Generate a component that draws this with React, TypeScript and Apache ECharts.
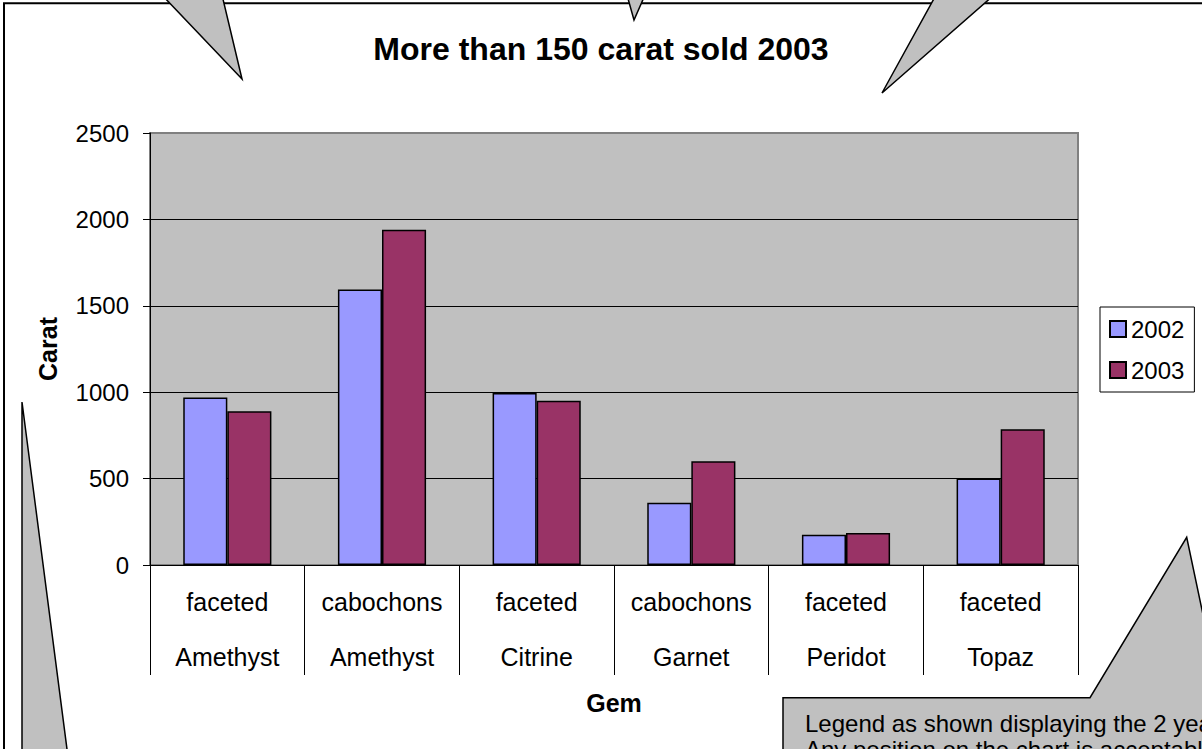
import React, { useEffect, useRef } from "react";
import * as echarts from "echarts";

const subTypes = ["faceted", "cabochons", "faceted", "cabochons", "faceted", "faceted"];
const gems = ["Amethyst", "Amethyst", "Citrine", "Garnet", "Peridot", "Topaz"];
const seriesNames = ["2002", "2003"];
const values2002 = [970, 1595, 995, 360, 175, 500];
const values2003 = [890, 1940, 950, 600, 185, 785];
const yTicks = { min: 0, max: 2500, interval: 500 };

const FONT = '"Liberation Sans", Arial, sans-serif';

export default function App() {
  const ref = useRef<HTMLDivElement>(null);

  useEffect(() => {
    if (!ref.current) return;
    const chart = echarts.init(ref.current, null, { renderer: "svg" });
    const categories = subTypes.map((s, i) => `${s}\n${gems[i]}`);

    const option: any = {
      animation: false,
      backgroundColor: "#ffffff",
      textStyle: { fontFamily: FONT, color: "#000" },
      title: {
        text: "More than 150 carat sold 2003",
        left: "center",
        top: 28,
        textStyle: { fontFamily: FONT, fontSize: 32, fontWeight: "bold", color: "#000" },
      },
      legend: {
        orient: "vertical",
        left: 1100,
        top: 307,
        padding: [10, 10, 10, 9],
        borderColor: "#000",
        borderWidth: 1,
        backgroundColor: "#fff",
        itemWidth: 16,
        itemHeight: 16,
        itemGap: 17,
        icon: "rect",
        textStyle: { fontFamily: FONT, fontSize: 24, color: "#000", lineHeight: 24 },
        data: seriesNames,
      },
      grid: {
        left: 150,
        right: 124,
        top: 133,
        bottom: 184,
        show: true,
        backgroundColor: "#C0C0C0",
        borderColor: "#808080",
        borderWidth: 2,
      },
      xAxis: {
        type: "category",
        data: categories,
        name: "Gem",
        nameLocation: "middle",
        nameGap: 125,
        nameTextStyle: { fontFamily: FONT, fontSize: 25, fontWeight: "bold", color: "#000" },
        axisLine: { show: true, lineStyle: { color: "#000", width: 1 } },
        axisTick: { show: true, interval: 0, length: 110, lineStyle: { color: "#000", width: 1 } },
        axisLabel: {
          interval: 0,
          fontFamily: FONT,
          fontSize: 25,
          lineHeight: 55,
          margin: 9,
          color: "#000",
        },
      },
      yAxis: {
        type: "value",
        min: yTicks.min,
        max: yTicks.max,
        interval: yTicks.interval,
        name: "Carat",
        nameLocation: "middle",
        nameGap: 90,
        nameTextStyle: { fontFamily: FONT, fontSize: 25, fontWeight: "bold", color: "#000" },
        axisLine: { show: true, lineStyle: { color: "#000", width: 1 } },
        axisTick: { show: true, length: 7, lineStyle: { color: "#000", width: 1 } },
        axisLabel: {
          fontFamily: FONT,
          fontSize: 24,
          margin: 21,
          color: "#000",
          formatter: (v: number) => String(v),
        },
        splitLine: { show: true, showMaxLine: false, lineStyle: { color: "#000", width: 1 } },
      },
      series: [
        {
          name: seriesNames[0],
          type: "bar",
          data: values2002,
          barGap: "0%",
          barCategoryGap: "43%",
          itemStyle: { color: "#9999FF", borderColor: "#000", borderWidth: 1.5 },
        },
        {
          name: seriesNames[1],
          type: "bar",
          data: values2003,
          barGap: "0%",
          barCategoryGap: "43%",
          itemStyle: { color: "#993366", borderColor: "#000", borderWidth: 1.5 },
        },
      ],
      graphic: {
        elements: [
          {
            type: "rect",
            z: 100,
            shape: { x: 4, y: 3.3, width: 1400, height: 900 },
            style: { fill: "none", stroke: "#000", lineWidth: 2 },
          },
          {
            type: "polygon",
            z: 101,
            shape: { points: [[162, -5], [242, 79], [222, -5]] },
            style: { fill: "#C0C0C0", stroke: "#000", lineWidth: 1.5 },
          },
          {
            type: "polygon",
            z: 101,
            shape: { points: [[627, -5], [634, 20], [645, -5]] },
            style: { fill: "#C0C0C0", stroke: "#000", lineWidth: 1.5 },
          },
          {
            type: "polygon",
            z: 101,
            shape: { points: [[936, -5], [882, 93], [994, -5]] },
            style: { fill: "#C0C0C0", stroke: "#000", lineWidth: 1.5 },
          },
          {
            type: "polygon",
            z: 101,
            shape: { points: [[22, 760], [22, 402], [68.4, 760]] },
            style: { fill: "#C0C0C0", stroke: "#000", lineWidth: 1.5 },
          },
          {
            type: "polygon",
            z: 101,
            shape: {
              points: [
                [783, 760],
                [783, 697.7],
                [1090, 697.7],
                [1186.7, 537.3],
                [1220.5, 697.7],
                [1300, 697.7],
                [1300, 760],
              ],
            },
            style: { fill: "#C0C0C0", stroke: "#000", lineWidth: 1.5 },
          },
          {
            type: "text",
            z: 102,
            x: 805,
            y: 710,
            style: {
              text: "Legend as shown displaying the 2 years.\nAny position on the chart is acceptable.",
              fontFamily: FONT,
              fontSize: 24,
              lineHeight: 26,
              fill: "#000",
              verticalAlign: "top",
            },
          },
        ],
      },
    };

    chart.setOption(option);
    return () => chart.dispose();
  }, []);

  return (
    <div
      ref={ref}
      style={{ position: "absolute", left: 0, top: 0, width: 1202, height: 749 }}
    />
  );
}
